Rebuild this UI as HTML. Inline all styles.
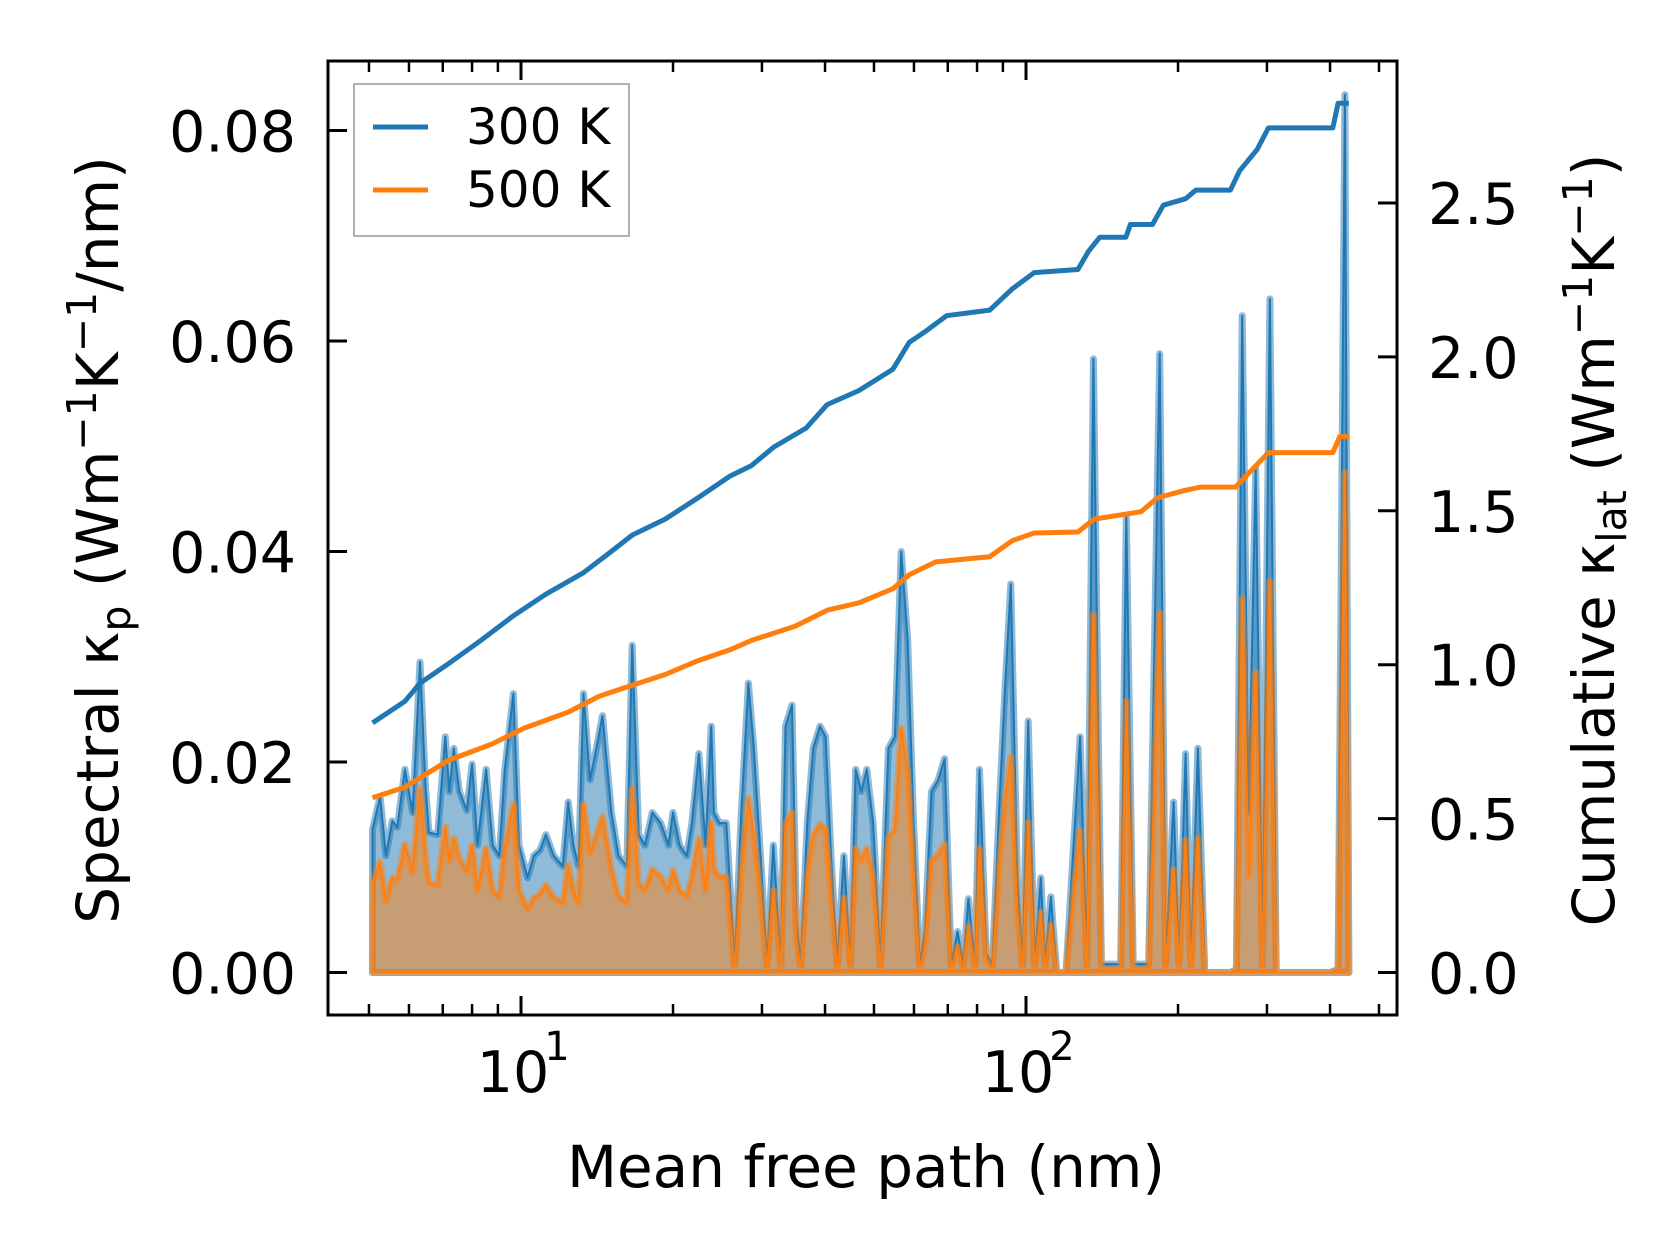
<!DOCTYPE html>
<html><head><meta charset="utf-8"><style>
html,body{margin:0;padding:0;background:#fff;}
svg{display:block;font-family:"DejaVu Sans","Liberation Sans",sans-serif;}
</style></head><body>
<svg id="chart" width="1679" height="1254" viewBox="0 0 1679 1254" xmlns="http://www.w3.org/2000/svg">
<g id="plot"></g>
<g id="axes"></g>
</svg>
<script>
const mfp = [5.08,5.26,5.40,5.56,5.69,5.89,6.10,6.31,6.47,6.57,6.84,7.08,7.21,7.36,7.55,7.81,8.00,8.20,8.53,8.79,9.06,9.29,9.66,9.91,10.3,10.6,10.9,11.2,11.6,12.1,12.4,12.7,13.0,13.3,13.7,14.1,14.5,15.1,15.6,16.2,16.6,17.1,17.6,18.2,18.9,19.6,20.0,20.6,21.3,21.8,22.5,23.2,23.8,24.1,24.7,25.5,26.5,27.3,28.2,28.9,29.8,30.7,31.6,32.7,33.4,34.4,35.1,35.8,36.9,37.9,39.1,40.1,41.1,42.3,43.6,44.9,46.0,47.2,48.4,49.8,51.5,53.4,55.0,56.6,58.3,59.8,61.6,63.1,65.0,67.0,69.0,71.1,73.2,75.1,76.9,79.3,80.9,83.4,85.8,88.4,91.0,93.3,96.1,98.5,101,104,107,109,112,115,120,128,132,136,141,146,154,158,163,175,184,189,196,201,207,212,219,226,234,254,261,268,276,285,294,304,313,400,415,428,436];
const spec300 = [0.0136,0.0167,0.0111,0.0144,0.0138,0.0193,0.0152,0.0295,0.0177,0.0133,0.0131,0.0224,0.0172,0.0213,0.0172,0.0154,0.0198,0.0121,0.0193,0.0121,0.0111,0.0193,0.0265,0.0121,0.0090,0.0111,0.0116,0.0131,0.0111,0.0101,0.0162,0.0121,0.0101,0.0265,0.0183,0.0213,0.0244,0.0152,0.0111,0.0101,0.0311,0.0131,0.0121,0.0152,0.0142,0.0121,0.0152,0.0121,0.0111,0.0142,0.0208,0.0121,0.0234,0.0152,0.0142,0.0142,0.0008,0.0152,0.0275,0.0213,0.0111,0.0008,0.0121,0.0008,0.0234,0.0254,0.0049,0.0008,0.0142,0.0213,0.0234,0.0224,0.0111,0.0008,0.0111,0.0008,0.0193,0.0172,0.0193,0.0142,0.0008,0.0213,0.0224,0.0400,0.0316,0.0152,0.0008,0.0039,0.0172,0.0183,0.0203,0.0008,0.0039,0.0008,0.0070,0.0008,0.0193,0.0018,0.0008,0.0152,0.0275,0.0369,0.0090,0.0008,0.0239,0.0008,0.0090,0.0008,0.0072,0.0000,0.0000,0.0224,0.0008,0.0583,0.0008,0.0008,0.0008,0.0434,0.0008,0.0008,0.0588,0.0008,0.0162,0.0008,0.0208,0.0008,0.0213,0.0000,0.0000,0.0000,0.0003,0.0624,0.0152,0.0480,0.0008,0.0640,0.0000,0.0000,0.0003,0.0834,0.0003];
const spec500 = [0.0085,0.0105,0.0068,0.0090,0.0088,0.0122,0.0095,0.0175,0.0110,0.0085,0.0083,0.0138,0.0106,0.0128,0.0108,0.0096,0.0121,0.0078,0.0118,0.0077,0.0072,0.0118,0.0160,0.0078,0.0060,0.0071,0.0074,0.0083,0.0071,0.0066,0.0102,0.0078,0.0066,0.0160,0.0114,0.0130,0.0148,0.0098,0.0072,0.0066,0.0175,0.0084,0.0078,0.0098,0.0091,0.0078,0.0097,0.0078,0.0072,0.0091,0.0127,0.0078,0.0142,0.0098,0.0091,0.0091,0.0003,0.0096,0.0165,0.0130,0.0071,0.0003,0.0078,0.0003,0.0141,0.0152,0.0030,0.0003,0.0091,0.0130,0.0141,0.0136,0.0071,0.0003,0.0071,0.0003,0.0118,0.0106,0.0118,0.0091,0.0003,0.0128,0.0136,0.0232,0.0190,0.0097,0.0003,0.0024,0.0106,0.0112,0.0122,0.0003,0.0024,0.0003,0.0044,0.0003,0.0118,0.0011,0.0003,0.0097,0.0165,0.0205,0.0057,0.0003,0.0143,0.0003,0.0057,0.0003,0.0045,0.0000,0.0000,0.0135,0.0003,0.0340,0.0003,0.0003,0.0003,0.0258,0.0003,0.0003,0.0342,0.0003,0.0098,0.0003,0.0126,0.0003,0.0128,0.0000,0.0000,0.0000,0.0002,0.0355,0.0092,0.0285,0.0003,0.0372,0.0000,0.0000,0.0002,0.0475,0.0002];
const cumX300 = [5.08,5.89,6.31,7.18,8.33,9.66,11.2,13.3,15.1,16.6,19.3,22.4,25.9,28.6,31.6,36.7,40.4,46.7,54.5,58.7,63.1,69.6,84.8,93.9,103.8,126.7,133,140,157.7,161,178,187,207,217,254,265,287,302,405,415,436];
const cum300 = [0.811,0.881,0.940,1.003,1.079,1.159,1.229,1.299,1.368,1.421,1.473,1.542,1.612,1.647,1.706,1.769,1.845,1.891,1.960,2.047,2.082,2.134,2.152,2.221,2.274,2.284,2.343,2.389,2.389,2.430,2.430,2.493,2.514,2.542,2.542,2.605,2.674,2.744,2.744,2.824,2.824];
const cumX500 = [5.08,5.89,7.18,8.75,10.15,12.4,14.3,16.6,19.3,22.4,25.9,28.6,34.9,40.4,46.7,54.5,58.7,66.3,76.9,84.8,93.9,103.8,126.7,136.5,169,182,207,222,260,279,302,405,418,436];
const cum500 = [0.568,0.602,0.689,0.742,0.794,0.846,0.898,0.933,0.968,1.013,1.048,1.079,1.125,1.177,1.201,1.247,1.292,1.334,1.344,1.351,1.403,1.428,1.431,1.473,1.497,1.542,1.567,1.577,1.577,1.630,1.689,1.689,1.741,1.741];
const leftTicks = [0,0.02,0.04,0.06,0.08];
const leftTickLabels = ["0.00","0.02","0.04","0.06","0.08"];
const rightTicks = [0,0.5,1.0,1.5,2.0,2.5];
const rightTickLabels = ["0.0","0.5","1.0","1.5","2.0","2.5"];
const xMajor = [10,100];
const xMajorExp = ["1","2"];
const xMinor = [5,6,7,8,9,20,30,40,50,60,70,80,90,200,300,400,500];

const L=328,R=1397,T=61,B=1015;
const xs = v => 521 + (Math.log10(v)-1)*505;
const yl = v => 972.5 - v/0.02*210.5;
const yr = v => 972.5 - v*307.8;
const NS="http://www.w3.org/2000/svg";
function mk(tag, attrs, parent){const e=document.createElementNS(NS,tag);for(const k in attrs)e.setAttribute(k,attrs[k]);parent.appendChild(e);return e;}
const plot=document.getElementById('plot'), axes=document.getElementById('axes');

function spectral(vals,color,name){
  let d=`M${xs(mfp[0])},${yl(0)}`;
  mfp.forEach((m,i)=>{d+=` L${xs(m).toFixed(1)},${yl(vals[i]).toFixed(1)}`;});
  d+=` L${xs(mfp[mfp.length-1])},${yl(0)} Z`;
  const f=mk('path',{d:d,fill:color,'fill-opacity':0.5,stroke:'none'},plot);
  
  
  let ld=''; mfp.forEach((m,i)=>{ld+=(i?' L':'M')+xs(m).toFixed(1)+','+yl(vals[i]).toFixed(1);});
  ld+=` L${xs(mfp[mfp.length-1])},${yl(0)} L${xs(mfp[0])},${yl(0)} Z`;
  const w=mk('path',{d:ld,fill:'none',stroke:color,'stroke-opacity':0.5,'stroke-width':7,'stroke-linejoin':'round'},plot);
  
  
  const t=mk('path',{d:ld,fill:'none',stroke:color,'stroke-width':2,'stroke-linejoin':'round'},plot);
  
  
}
spectral(spec300,'#1f77b4','spectral-300k');
spectral(spec500,'#ff7f0e','spectral-500k');

function cum(xv,yv,color,name){
  let d=''; xv.forEach((m,i)=>{d+=(i?' L':'M')+xs(m).toFixed(1)+','+yr(yv[i]).toFixed(1);});
  const p=mk('path',{d:d,fill:'none',stroke:color,'stroke-width':5,'stroke-linejoin':'round'},plot);
  
  
}
cum(cumX300,cum300,'#1f77b4','cumulative-300k-line');
cum(cumX500,cum500,'#ff7f0e','cumulative-500k-line');

const fr=mk('rect',{x:L,y:T,width:R-L,height:B-T,fill:'none',stroke:'#000','stroke-width':3},axes);



leftTicks.forEach((v,i)=>{
  const y=yl(v);
  const tk=mk('line',{x1:L,x2:L+19,y1:y,y2:y,stroke:'#000','stroke-width':3},axes);
  
  
  const t=mk('text',{x:296,y:y+21,'font-size':57,'text-anchor':'end',fill:'#000'},axes);
  t.textContent=leftTickLabels[i];
  
  
});
rightTicks.forEach((v,i)=>{
  const y=yr(v);
  const tk=mk('line',{x1:R-19,x2:R,y1:y,y2:y,stroke:'#000','stroke-width':3},axes);
  
  
  const t=mk('text',{x:1428,y:y+21,'font-size':57,'text-anchor':'start',fill:'#000'},axes);
  t.textContent=rightTickLabels[i];
  
  
});
xMajor.forEach((v,i)=>{
  const x=xs(v);
  [[B,B-19],[T,T+19]].forEach(([a,b])=>{
    const tk=mk('line',{x1:x,x2:x,y1:a,y2:b,stroke:'#000','stroke-width':3},axes);
    
    
  });
  const t=mk('text',{x:x-8,y:1092,'font-size':57,'text-anchor':'middle',fill:'#000'},axes);
  t.textContent='10';
  
  
  const s=mk('text',{x:x+36,y:1060,'font-size':40,'text-anchor':'middle',fill:'#000'},axes);
  s.textContent=xMajorExp[i];
  
  
});
xMinor.forEach(v=>{
  const x=xs(v);
  if(x<L||x>R)return;
  [[B,B-11],[T,T+11]].forEach(([a,b])=>{
    const tk=mk('line',{x1:x,x2:x,y1:a,y2:b,stroke:'#000','stroke-width':2.5},axes);
    
    
  });
});
</script>
<svg style="position:absolute;left:0;top:0" width="1679" height="1254">
<text x="866" y="1187" font-size="58" text-anchor="middle" font-family="DejaVu Sans, Liberation Sans, sans-serif">Mean free path (nm)</text>
<text transform="translate(118,540) rotate(-90)" font-size="58" text-anchor="middle" font-family="DejaVu Sans, Liberation Sans, sans-serif">Spectral κ<tspan font-size="41" dy="12">p</tspan><tspan dy="-12"> (Wm</tspan><tspan font-size="41" dy="-22">−1</tspan><tspan dy="22">K</tspan><tspan font-size="41" dy="-22">−1</tspan><tspan dy="22">/nm)</tspan></text>
<text transform="translate(1614,540) rotate(-90)" font-size="58" text-anchor="middle" font-family="DejaVu Sans, Liberation Sans, sans-serif">Cumulative κ<tspan font-size="41" dy="12">lat</tspan><tspan dy="-12"> (Wm</tspan><tspan font-size="41" dy="-22">−1</tspan><tspan dy="22">K</tspan><tspan font-size="41" dy="-22">−1</tspan><tspan dy="22">)</tspan></text>
<g>
<rect x="354" y="84" width="275" height="152" fill="#fff" fill-opacity="0.8" stroke="#999" stroke-width="1.5"/>
<line x1="373" x2="428" y1="127" y2="127" stroke="#1f77b4" stroke-width="5"/>
<text x="466" y="144" font-size="50" font-family="DejaVu Sans, Liberation Sans, sans-serif">300 K</text>
<line x1="373" x2="428" y1="190" y2="190" stroke="#ff7f0e" stroke-width="5"/>
<text x="466" y="207" font-size="50" font-family="DejaVu Sans, Liberation Sans, sans-serif">500 K</text>
</g>
</svg>
</body></html>
